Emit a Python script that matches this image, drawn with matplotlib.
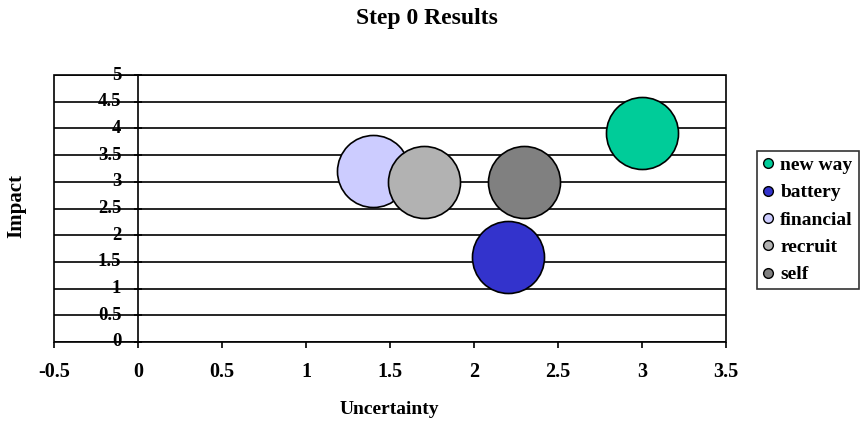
import matplotlib
matplotlib.use("Agg")
import matplotlib.pyplot as plt
from matplotlib.lines import Line2D
from matplotlib.patches import Rectangle

names = ["new way", "battery", "financial", "recruit", "self"]
uncertainty = [3.0, 2.2, 1.4, 1.7, 2.3]
impact = [3.92, 1.6, 3.2, 3.0, 3.0]
colors = ["#00CC99", "#3333CC", "#CCCCFF", "#B2B2B2", "#808080"]
x_ticks = [-0.5, 0, 0.5, 1, 1.5, 2, 2.5, 3, 3.5]
y_ticks = [0, 0.5, 1, 1.5, 2, 2.5, 3, 3.5, 4, 4.5, 5]

plt.rcParams['font.family'] = ['Liberation Serif', 'DejaVu Serif']
plt.rcParams['font.weight'] = 'bold'

W, H = 862, 421
fig = plt.figure(figsize=(W / 100, H / 100), dpi=100)
left, right, top, bottom = 54, 726, 75, 342
ax = fig.add_axes([left / W, 1 - bottom / H, (right - left) / W, (bottom - top) / H])
ax.set_xlim(-0.5, 3.5)
ax.set_ylim(0, 5)

# horizontal gridlines
for yv in y_ticks:
    ax.axhline(yv, color="black", lw=1.2, zorder=1)

# frame
ax.add_patch(Rectangle((0, 0), 1, 1, transform=ax.transAxes, fill=False,
                       edgecolor="black", lw=1.2, zorder=1, clip_on=False))

for s in ["top", "right", "bottom"]:
    ax.spines[s].set_visible(False)
ax.spines["left"].set_position(("data", 0))
ax.spines["left"].set_linewidth(1.2)
ax.spines["left"].set_zorder(1)

ax.set_xticks(x_ticks)
ax.set_xticklabels([f"{v:g}" for v in x_ticks])
ax.set_yticks(y_ticks)
ax.set_yticklabels([f"{v:g}" for v in y_ticks])
ax.tick_params(axis="x", direction="out", length=4.5, width=1.2, pad=10, labelsize=14.5)
ax.tick_params(axis="y", direction="inout", length=6, width=1.2, pad=9, labelsize=13.5)
for lbl in ax.get_yticklabels():
    lbl.set_verticalalignment("center")

for xv, yv, c in zip(uncertainty, impact, colors):
    ax.scatter([xv], [yv], s=2690, color=c, edgecolors="black", linewidths=1.2, zorder=3, clip_on=False)

fig.text(427 / W, 1 - 24 / H, "Step 0 Results", ha="center", va="baseline", fontsize=17, fontweight="bold")
fig.text(389.5 / W, 1 - 409 / H, "Uncertainty", ha="center", va="center", fontsize=14, fontweight="bold")
fig.text(16 / W, 1 - 206 / H, "Impact", ha="center", va="center", rotation=90, fontsize=15, fontweight="bold")

handles = [Line2D([], [], marker="o", linestyle="none", markersize=7, markerfacecolor=c,
                  markeredgecolor="black", markeredgewidth=1) for c in colors]
leg = fig.legend(handles, names, loc="center left", bbox_to_anchor=(757 / W, 1 - 220 / H),
                 frameon=True, fancybox=False, edgecolor="black", fontsize=14,
                 handlelength=0.5, handletextpad=0.4, borderpad=0.3, labelspacing=0.5,
                 borderaxespad=0)
leg.get_frame().set_linewidth(1.2)

fig.savefig("out.png", dpi=100)
